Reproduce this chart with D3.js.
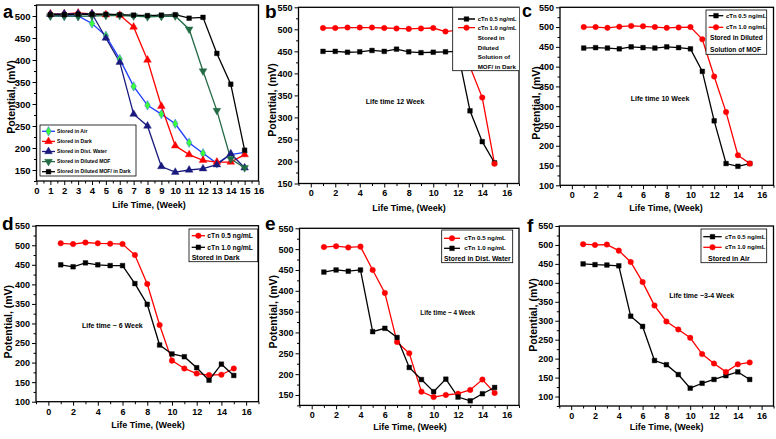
<!DOCTYPE html>
<html><head><meta charset="utf-8">
<script src="https://cdn.jsdelivr.net/npm/d3@7"></script>
<style>
body{margin:0;background:#fff}
svg{display:block}
text{font-family:"Liberation Sans",Arial,sans-serif;font-weight:bold;fill:#000}
</style></head>
<body><svg id="chart" width="776" height="439"></svg>
<script>
// ---------- DATA ----------
const weeks = [1,2,3,4,5,6,7,8,9,10,11,12,13,14,15];

// panel a
const aAir      = [501,500,500,483,455,402,340,297,277,255,212,188,165,185,190];
const aDark     = [505,505,507,505,503,502,475,400,295,205,185,172,168,168,185];
const aWater    = [504,505,505,505,450,395,277,250,158,145,150,153,162,187,155];
const aMOF      = [500,500,499,500,501,501,500,498,499,500,470,375,285,175,155];
const aMOFDark  = [503,503,504,504,504,503,502,501,502,503,495,497,415,345,195];
const aLabels   = ["Stored in Air","Stored in Dark","Stored in Dist. Water","Stored in Diluted MOF","Stored in Diluted MOF/ in Dark"];

// panel b (diluted MOF / dark)
const bLow  = [450,450,448,449,452,450,455,449,447,448,449,450,315,245,197];
const bHigh = [503,503,504,504,504,503,502,501,502,503,495,498,415,345,195];
// panel c (diluted MOF)
const cLow  = [447,448,447,445,450,448,447,450,448,445,388,263,155,148,155];
const cHigh = [500,500,498,501,503,502,500,498,499,500,469,375,285,176,155];
// panel d (dark)  red = 0.5, black = 1.0
const dRed   = [505,503,507,505,504,503,475,401,296,205,185,172,168,169,185];
const dBlack = [450,445,455,450,448,448,402,349,245,222,215,187,155,196,167];
// panel e (dist. water) red = 0.5, black = 1.0
const eRed   = [505,507,504,506,450,395,277,250,158,145,150,153,162,187,155];
const eBlack = [445,450,447,450,302,310,288,216,187,158,188,145,136,153,168];
// panel f (air) black = 0.5, red = 1.0
const fBlack = [450,448,447,445,312,285,195,184,158,122,135,145,155,165,145];
const fRed   = [502,500,501,485,455,402,340,298,277,255,212,187,165,185,190];

const lbl05 = "cTn 0.5 ng/mL", lbl10 = "cTn 1.0 ng/mL";
const xTicksA = [0,1,2,3,4,5,6,7,8,9,10,11,12,13,14,15,16];
const xTicksB = [0,2,4,6,8,10,12,14,16];
const annotations = {b:"Life time 12 Week", c:"Life time 10 Week", d:"Life time ~ 6 Week", e:"Life time ~ 4 Week", f:"Life time ~3-4 Week"};
const xTitle = "Life Time, (Week)", yTitle = "Potential, (mV)";

// ---------- STYLES ----------
const RED = "#ff0000", BLACK = "#000000";
const sRed   = (v)=>({values:v, color:RED, fill:RED, shape:"circle"});
const sBlack = (v)=>({values:v, color:BLACK, fill:BLACK, shape:"square"});

const panels = [
 {letter:"a", lp:[3,18,18], box:[36.5,5,258.5,181], xd:[0,16], yd:[125,525],
  xMaj:xTicksA, xMin:d3.range(0.5,16,1), yMaj:d3.range(150,501,50), yMin:d3.range(125,526,25), tfs:9.5,
  series:[
   {values:aAir, color:"#1f3dff", fill:"#3cff3c", shape:"diamond"},
   {values:aDark, color:RED, fill:RED, shape:"tri"},
   {values:aWater, color:"#1a1a7e", fill:"#1a1a7e", shape:"tri"},
   {values:aMOF, color:"#236b45", fill:"#236b45", shape:"triDown"},
   {values:aMOFDark, color:BLACK, fill:BLACK, shape:"square"}],
  legend:{x:40,y:125,w:96,h:51, l0:2,l1:15, tx:17, items:aLabels.map((t,i)=>({s:i,label:t,dy:6.3+i*10.1,fs:5.1}))},
  yt:[11,97], xt:[149,208]},
 {letter:"b", lp:[265,18,19], box:[298.5,7.3,519,183.5], xd:[-1,17], yd:[150,550],
  xMaj:xTicksB, xMin:d3.range(-1,18,2), yMaj:d3.range(150,551,50), yMin:d3.range(175,550,50), tfs:9,
  series:[sBlack(bLow), sRed(bHigh)],
  legend:{x:452.7,y:7.3,w:70,h:63.4, l0:5.3,l1:22.3, tx:25, clip:true, items:[
    {s:0,label:lbl05,dy:11.7,fs:5.8},{s:1,label:lbl10,dy:20.4,fs:5.8},
    {label:"Stored in",dy:30.4,fs:6.2,tx:25},{label:"Diluted",dy:40.4,fs:6.2,tx:25},
    {label:"Solution of",dy:50,fs:6.2,tx:25},{label:"MOF/ in Dark",dy:59.4,fs:6.2,tx:25}]},
  ann:[annotations.b,395,101.7,7], yt:[272,100], xt:[409,211]},
 {letter:"c", lp:[522,17,18], box:[560,7.3,773.5,185.3], xd:[-1,17], yd:[100,550],
  xMaj:xTicksB, xMin:d3.range(-1,18,2), yMaj:d3.range(100,551,50), yMin:d3.range(125,550,50), tfs:9,
  series:[sBlack(cLow), sRed(cHigh)],
  legend:{x:706,y:10,w:60.7,h:44.3, l0:2.7,l1:17.3, tx:20, items:[
    {s:0,label:lbl05,dy:5.7,fs:6},{s:1,label:lbl10,dy:17.3,fs:6},
    {label:"Stored in Diluted",dy:27.7,fs:6.6,tx:4},{label:"Solution of MOF",dy:39.3,fs:6.6,tx:4}]},
  ann:[annotations.c,660,98.3,7], yt:[536,103], xt:[666,211]},
 {letter:"d", lp:[2,230,19], box:[36,225.7,258.5,401.7], xd:[-1,17], yd:[100,550],
  xMaj:xTicksB, xMin:d3.range(-1,18,2), yMaj:d3.range(100,551,50), yMin:d3.range(125,550,50), tfs:9,
  series:[sRed(dRed), sBlack(dBlack)],
  legend:{x:189,y:229,w:68.7,h:32.7, l0:2.7,l1:16, tx:18.3, items:[
    {s:0,label:lbl05,dy:6.7,fs:6.8},{s:1,label:lbl10,dy:18.3,fs:6.8},
    {label:"Stored in Dark",dy:28.3,fs:7,tx:2.7}]},
  ann:[annotations.d,112.3,326,7], yt:[8,321.7], xt:[148,428]},
 {letter:"e", lp:[265,230,19], box:[299.5,228.3,519,405.4], xd:[-1,17], yd:[125,550],
  xMaj:xTicksB, xMin:d3.range(-1,18,2), yMaj:d3.range(150,551,50), yMin:d3.range(125,550,50), tfs:9,
  series:[sRed(eRed), sBlack(eBlack)],
  legend:{x:441.7,y:230,w:71,h:32.7, l0:2.3,l1:18.3, tx:22.6, items:[
    {s:0,label:lbl05,dy:8.3,fs:6.2},{s:1,label:lbl10,dy:18.3,fs:6.2},
    {label:"Stored in Dist. Water",dy:28.3,fs:6.8,tx:2.3}]},
  ann:[annotations.e,447.7,312.3,6.3], yt:[273,311.7], xt:[410,430]},
 {letter:"f", lp:[527,232,19], box:[559.3,226,773.5,406], xd:[-1,17], yd:[75,550],
  xMaj:xTicksB, xMin:d3.range(-1,18,2), yMaj:d3.range(100,551,50), yMin:d3.range(75,550,50), tfs:9,
  series:[sBlack(fBlack), sRed(fRed)],
  legend:{x:701,y:229,w:65.7,h:33.7, l0:2.3,l1:20.7, tx:24, items:[
    {s:0,label:lbl05,dy:7.7,fs:6},{s:1,label:lbl10,dy:18.3,fs:6},
    {label:"Stored in Air",dy:29.3,fs:7,tx:7}]},
  ann:[annotations.f,701.7,296,7], yt:[533,315], xt:[666.7,430]}
];

// ---------- DRAW ----------
const svg = d3.select("#chart");
const defs = svg.append("defs");

function marker(sel, shape, fill, color, cx, cy){
  let sym, size, rot = 0;
  if(shape==="circle"){sym=d3.symbolCircle;size=24;}
  else if(shape==="square"){sym=d3.symbolSquare;size=22;}
  else if(shape==="diamond"){sym=d3.symbolDiamond;size=26;}
  else if(shape==="tri"){sym=d3.symbolTriangle;size=26;}
  else {sym=d3.symbolTriangle;size=26;rot=180;}
  sel.append("path").attr("d", d3.symbol().type(sym).size(size)())
    .attr("transform",`translate(${cx},${cy}) rotate(${rot})`)
    .attr("fill", fill).attr("stroke", color).attr("stroke-width",0.4);
}

panels.forEach((p, pi)=>{
  const [L,T,R,B] = p.box;
  const g = svg.append("g");
  const x = d3.scaleLinear().domain(p.xd).range([L,R]);
  const y = d3.scaleLinear().domain(p.yd).range([B,T]);

  const style = s => { s.select(".domain").remove(); s.attr("font-family",null).attr("font-size",p.tfs);
    s.selectAll("line").attr("stroke","#000").attr("stroke-width",1); };
  g.append("g").attr("transform",`translate(0,${B})`)
    .call(d3.axisBottom(x).tickValues(p.xMin).tickSize(2.5).tickFormat("")).call(style);
  g.append("g").attr("transform",`translate(0,${B})`)
    .call(d3.axisBottom(x).tickValues(p.xMaj).tickSize(4).tickPadding(2.5).tickFormat(d3.format("d"))).call(style);
  g.append("g").attr("transform",`translate(${L},0)`)
    .call(d3.axisLeft(y).tickValues(p.yMin).tickSize(2.5).tickFormat("")).call(style);
  g.append("g").attr("transform",`translate(${L},0)`)
    .call(d3.axisLeft(y).tickValues(p.yMaj).tickSize(4).tickPadding(2).tickFormat(d3.format("d"))).call(style);

  // series
  const line = d3.line().x((d,i)=>x(weeks[i])).y(d=>y(d));
  p.series.forEach(s=>{
    g.append("path").datum(s.values).attr("d", line)
      .attr("fill","none").attr("stroke", s.color).attr("stroke-width",1.3);
  });
  p.series.forEach(s=>{
    const mg = g.append("g");
    s.values.forEach((v,i)=>marker(mg, s.shape, s.fill, s.color, x(weeks[i]), y(v)));
  });

  // frame
  g.append("rect").attr("x",L).attr("y",T).attr("width",R-L).attr("height",B-T)
    .attr("fill","none").attr("stroke","#000").attr("stroke-width",1.3);

  // legend
  const lg = p.legend;
  const clipId = "clip"+pi;
  defs.append("clipPath").attr("id",clipId).append("rect").attr("x",L).attr("y",T).attr("width",R-L).attr("height",B-T);
  const leg = g.append("g");
  if(lg.clip) leg.attr("clip-path",`url(#${clipId})`);
  leg.append("rect").attr("x",lg.x).attr("y",lg.y).attr("width",lg.w).attr("height",lg.h)
    .attr("fill","#fff").attr("stroke","#000").attr("stroke-width",0.8);
  lg.items.forEach(it=>{
    const cy = lg.y + it.dy;
    if(it.s!==undefined){
      const s = p.series[it.s];
      leg.append("line").attr("x1",lg.x+lg.l0).attr("x2",lg.x+lg.l1).attr("y1",cy).attr("y2",cy)
        .attr("stroke",s.color).attr("stroke-width",1.3);
      marker(leg, s.shape, s.fill, s.color, lg.x+(lg.l0+lg.l1)/2, cy);
    }
    leg.append("text").attr("x", lg.x + (it.tx!==undefined?it.tx:lg.tx)).attr("y",cy).attr("dy","0.35em")
      .attr("font-size",it.fs).text(it.label);
  });

  // annotation
  if(p.ann){
    g.append("text").attr("x",p.ann[1]).attr("y",p.ann[2]).attr("dy","0.35em").attr("text-anchor","middle")
      .attr("font-size",p.ann[3]).text(p.ann[0]);
  }
  // titles
  g.append("text").attr("x",p.xt[0]).attr("y",p.xt[1]).attr("text-anchor","middle").attr("font-size",9).text(xTitle);
  g.append("text").attr("transform",`translate(${p.yt[0]},${p.yt[1]}) rotate(-90)`).attr("dy","0.35em")
    .attr("text-anchor","middle").attr("font-size",10.5).text(yTitle);
  // panel letter
  g.append("text").attr("x",p.lp[0]).attr("y",p.lp[1]).attr("font-size",p.lp[2]).text(p.letter);
});
</script></body></html>
